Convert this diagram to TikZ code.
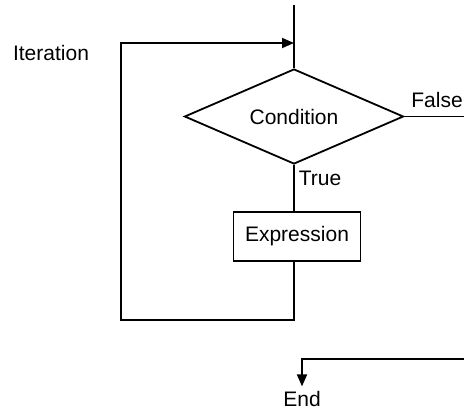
\documentclass[tikz,border=0pt]{standalone}
\usepackage{fontspec}
\setmainfont{Liberation Sans}
\usetikzlibrary{shapes.geometric,arrows.meta,positioning}

\begin{document}
\begin{tikzpicture}[x=0.5pt,y=-0.5pt,line width=0.9pt,
  font=\fontsize{10.5}{12.6}\selectfont,
  >={Triangle[length=6pt,width=5pt]}]
\useasboundingbox (0,0) rectangle (464,408);
\coordinate (top) at (294,5);
\coordinate (join) at (294,43);
\coordinate (exit) at (464,359);
\node[draw,diamond,aspect=2.3,inner sep=0pt,minimum width=109.5pt,
      minimum height=47.5pt] (cond) at (294,116.5) {Condition};
\node[below=23pt of cond,xshift=1.5pt,draw,minimum width=63.5pt,
      minimum height=24.5pt,inner sep=0pt] (expr) {Expression};
\node (iter) at (51,53) {Iteration};
\node (false) at (437,100) {False};
\node[anchor=west,inner sep=1pt] (true) at (296,178) {True};
\node[inner sep=2pt] (end) at (302,399) {End};
\draw (top) -- (cond.north);
\draw (cond.east) -- (cond.east -| exit);
\draw (cond.south) -- (cond.south |- expr.north);
\draw[->] (cond.south |- expr.south) -- ++(0,58) -| (121,43) -- (join);
\draw[->] (exit) -| (end.north);
\end{tikzpicture}
\end{document}
